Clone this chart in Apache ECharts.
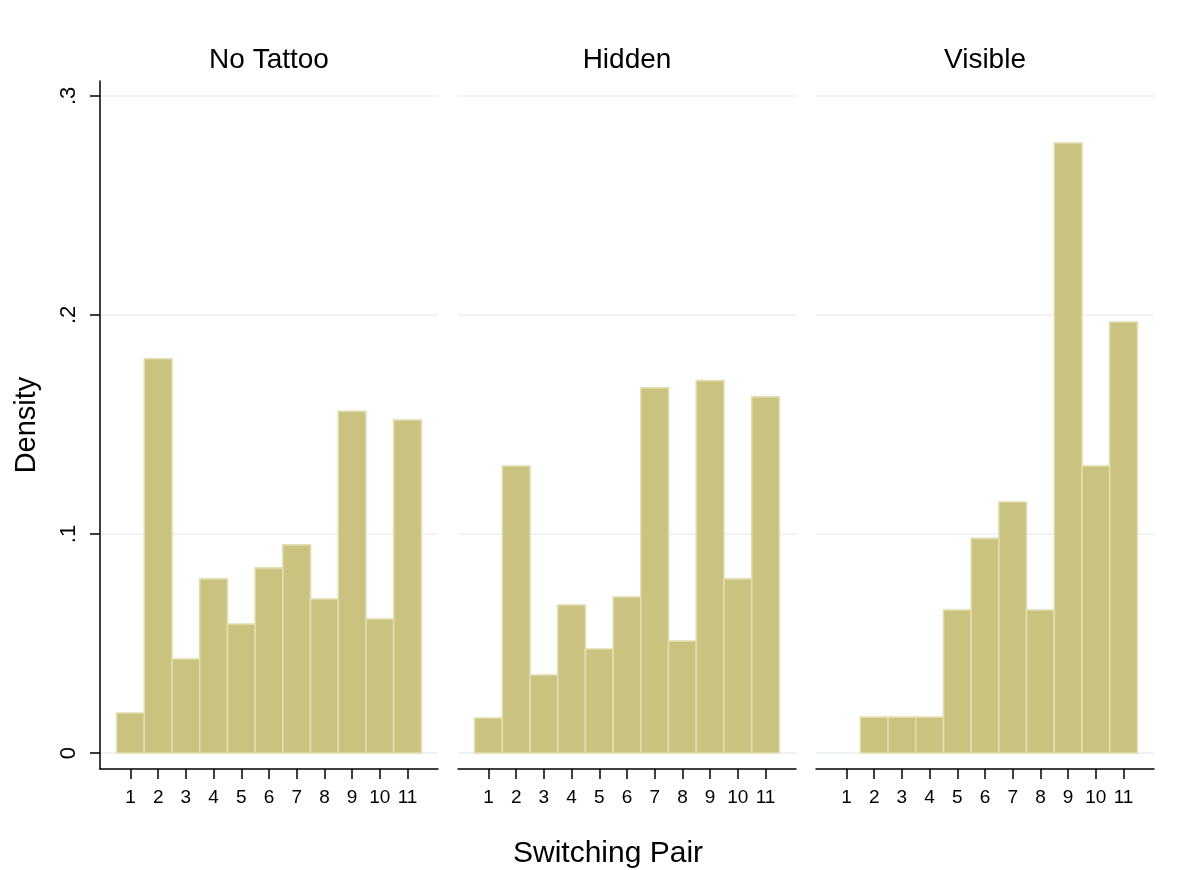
<!DOCTYPE html>
<html>
<head>
<meta charset="utf-8">
<script src="https://cdn.jsdelivr.net/npm/echarts@6/dist/echarts.min.js"></script>
<style>
html,body{margin:0;padding:0;background:#fff;}
#chart{width:1192px;height:870px;}
</style>
</head>
<body>
<div id="chart"></div>
<script>
const panelTitles = ['No Tattoo', 'Hidden', 'Visible'];
const pairs = [1, 2, 3, 4, 5, 6, 7, 8, 9, 10, 11];
const noTattoo = [0.0183, 0.180, 0.0429, 0.0795, 0.0589, 0.0845, 0.095, 0.0703, 0.156, 0.0612, 0.152];
const hidden = [0.016, 0.131, 0.0356, 0.0676, 0.0475, 0.0712, 0.1667, 0.0511, 0.170, 0.0795, 0.1626];
const visible = [0, 0.0164, 0.0164, 0.0164, 0.0653, 0.098, 0.1146, 0.0653, 0.2785, 0.131, 0.1968];
const yTicks = [0, 0.1, 0.2, 0.3];
const yTickLabels = ['0', '.1', '.2', '.3'];
const xTitle = 'Switching Pair';
const yTitle = 'Density';

const FONT = '"Liberation Sans", Arial, sans-serif';
const seriesData = [noTattoo, hidden, visible];
const lefts = [100, 458, 816];
const W = 338;

const chart = echarts.init(document.getElementById('chart'), null, {renderer: 'canvas'});

const grids = lefts.map(l => ({left: l, width: W, top: 81, bottom: 101, containLabel: false}));
const xAxes = lefts.map((l, i) => ({
  type: 'value', gridIndex: i, min: -0.1, max: 12.1,
  axisLine: {show: true, onZero: false, lineStyle: {color: '#000', width: 1.5}},
  axisTick: {show: true, length: 10, lineStyle: {color: '#000', width: 1.5}, customValues: pairs},
  axisLabel: {show: true, customValues: pairs, fontFamily: FONT, fontSize: 19, color: '#000', margin: 19,
    formatter: v => String(v)},
  splitLine: {show: false}
}));
const yAxes = lefts.map((l, i) => ({
  type: 'value', gridIndex: i, min: -0.0073, max: 0.3068,
  name: i === 0 ? yTitle : '',
  nameLocation: 'middle', nameGap: 59, nameRotate: 90,
  nameTextStyle: {fontFamily: FONT, fontSize: 29, color: '#000'},
  axisLine: {show: i === 0, onZero: false, lineStyle: {color: '#000', width: 1.5}},
  axisTick: {show: i === 0, length: 10, lineStyle: {color: '#000', width: 1.5}, customValues: yTicks},
  axisLabel: {show: i === 0, customValues: yTicks, rotate: 90, fontFamily: FONT, fontSize: 22, color: '#000', margin: 20,
    formatter: v => { const k = yTicks.findIndex(t => Math.abs(t - v) < 1e-9); return k >= 0 ? yTickLabels[k] : ''; }},
  splitLine: {show: true, lineStyle: {color: '#e9eff2', width: 1.5}}
}));

const series = seriesData.map((arr, i) => ({
  type: 'custom', xAxisIndex: i, yAxisIndex: i,
  data: pairs.map((p, k) => [p, arr[k]]),
  renderItem: function (params, api) {
    const x = api.value(0), y = api.value(1);
    if (!y) return null;
    const p0 = api.coord([x - 0.5, y]);
    const p1 = api.coord([x + 0.5, 0]);
    return {
      type: 'rect',
      shape: {x: p0[0], y: p0[1], width: p1[0] - p0[0], height: p1[1] - p0[1]},
      style: {fill: '#cac27f', stroke: '#e2ddaf', lineWidth: 1.6}
    };
  }
}));

const titles = panelTitles.map((t, i) => ({
  text: t, left: lefts[i] + W / 2, top: 46, textAlign: 'center', padding: 0,
  textStyle: {fontFamily: FONT, fontSize: 28, fontWeight: 'normal', color: '#000'}
}));
titles.push({
  text: xTitle, left: 608, top: 839, textAlign: 'center', padding: 0,
  textStyle: {fontFamily: FONT, fontSize: 30, fontWeight: 'normal', color: '#000'}
});

chart.setOption({
  animation: false,
  backgroundColor: '#fff',
  title: titles,
  grid: grids,
  xAxis: xAxes,
  yAxis: yAxes,
  series: series
});
</script>
</body>
</html>
